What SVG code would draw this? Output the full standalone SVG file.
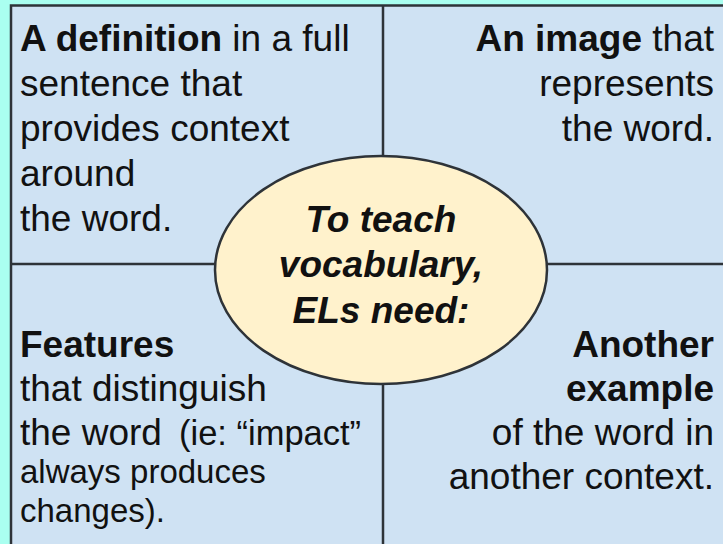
<svg xmlns="http://www.w3.org/2000/svg" width="723" height="544" viewBox="0 0 723 544">
<style>
  text { font-family: "Liberation Sans", Arial, sans-serif; font-size: 37px; fill: #111; }
  .b { font-weight: bold; }
  .sm { font-size: 33px; }
  .md { font-size: 34.5px; }
  .r { text-anchor: end; }
  .c { text-anchor: middle; font-weight: bold; font-style: italic; }
  .line { stroke: #2e3338; stroke-width: 2.5; fill: none; }
</style>
<rect x="0" y="0" width="723" height="544" fill="#aafff0"/>
<g id="frame">
  <rect x="11" y="5.5" width="730" height="560" fill="#cfe2f3" stroke="#2e3338" stroke-width="2.5"/>
</g>
<g id="connectors">
  <line class="line" x1="11" y1="264" x2="723" y2="264"/>
  <line class="line" x1="383" y1="5" x2="383" y2="544"/>
</g>
<g id="definition">
  <text x="20" y="51"><tspan class="b">A definition</tspan> in a full</text>
  <text x="20" y="96">sentence that</text>
  <text x="20" y="141">provides context</text>
  <text x="20" y="186">around</text>
  <text x="20" y="231">the word.</text>
</g>
<g id="image">
  <text class="r" x="714" y="51"><tspan class="b">An image</tspan> that</text>
  <text class="r" x="714" y="96">represents</text>
  <text class="r" x="714" y="141">the word.</text>
</g>
<g id="features">
  <text class="b" x="20" y="357">Features</text>
  <text x="20" y="401">that distinguish</text>
  <text x="20" y="445">the word <tspan class="md" x="179">(ie: “impact”</tspan></text>
  <text class="sm" x="20" y="483">always produces</text>
  <text class="sm" x="20" y="522">changes).</text>
</g>
<g id="example">
  <text class="r b" x="714" y="357">Another</text>
  <text class="r b" x="714" y="401">example</text>
  <text class="r" x="714" y="445">of the word in</text>
  <text class="r" x="714" y="489">another context.</text>
</g>
<g id="center">
  <ellipse cx="381" cy="270" rx="166" ry="114" fill="#fff2cc" stroke="#2e3338" stroke-width="2.5"/>
  <text class="c" x="381" y="232">To teach</text>
  <text class="c" x="381" y="277">vocabulary,</text>
  <text class="c" x="381" y="323">ELs need:</text>
</g>
</svg>
